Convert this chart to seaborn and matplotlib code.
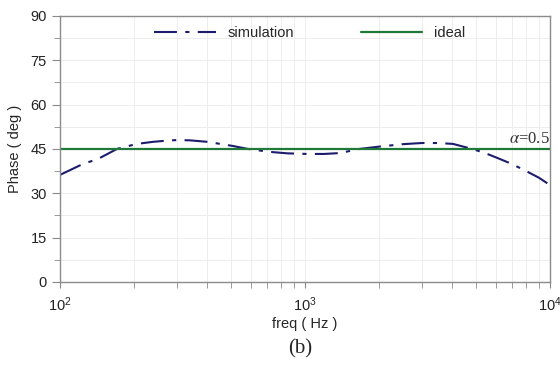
import numpy as np
import pandas as pd
import seaborn as sns
import matplotlib.pyplot as plt
from matplotlib.ticker import LogLocator, MultipleLocator, NullFormatter

# values
sim_freq = [100, 124, 143, 171, 206, 240, 273, 300, 340, 400, 508, 585, 719,
            850, 1020, 1200, 1390, 1670, 2020, 2500, 3000, 3500, 4020, 4810,
            5400, 6080, 7000, 8130, 9000, 10000]
sim_phase = [36.2, 39.9, 41.6, 45.0, 46.7, 47.4, 47.8, 48.0, 47.9, 47.4, 46.0,
             45.0, 44.0, 43.5, 43.3, 43.3, 43.6, 45.0, 45.8, 46.6, 47.0, 47.0,
             46.7, 45.0, 43.7, 42.0, 39.9, 37.2, 35.3, 32.8]
ideal_freq = [100, 10000]
ideal_phase = [45, 45]

sim = pd.DataFrame({'freq': sim_freq, 'phase': sim_phase})
ideal = pd.DataFrame({'freq': ideal_freq, 'phase': ideal_phase})

sns.set_style("white")
plt.rcParams['font.family'] = ['Liberation Sans', 'DejaVu Sans']
plt.rcParams['mathtext.fontset'] = 'stix'

fig = plt.figure(figsize=(5.6, 3.7), dpi=100)
ax = fig.add_axes([0.107, 0.238, 0.875, 0.719])

sns.lineplot(data=sim, x='freq', y='phase', ax=ax, color='#1c1c6e',
             lw=1.5, label='simulation')
ax.lines[-1].set_dashes((11, 4, 2, 4))
sns.lineplot(data=ideal, x='freq', y='phase', ax=ax, color='#1f7a3a',
             lw=1.6, label='ideal')

ax.set_xscale('log')
ax.set_xlim(100, 10000)
ax.set_ylim(0, 90)
ax.yaxis.set_major_locator(MultipleLocator(15))
ax.yaxis.set_minor_locator(MultipleLocator(7.5))
ax.xaxis.set_minor_locator(LogLocator(base=10, subs=np.arange(2, 10)))
ax.xaxis.set_minor_formatter(NullFormatter())

ax.grid(True, which='both', color='#ededed', lw=0.7)
for s in ax.spines.values():
    s.set_color('#8a8a8a')
    s.set_linewidth(1.0)
ax.tick_params(axis='both', which='both', direction='out', colors='#8a8a8a',
               labelcolor='#222222', labelsize=10.5)
ax.tick_params(axis='y', which='major', length=6, left=True)
ax.tick_params(axis='y', which='minor', length=4, left=True)
ax.tick_params(axis='x', which='both', length=4, bottom=True, pad=6)

ax.set_xlabel('freq ( Hz )', fontsize=10.5, labelpad=2)
ax.set_ylabel('Phase ( deg )', fontsize=10.5, labelpad=6)

ax.text(10000, 45.6, r'$\alpha$=0.5', ha='right', va='bottom', fontsize=12,
        family=['Liberation Serif', 'DejaVu Serif'], color='#333333')

ax.legend(ncol=2, loc='upper center', bbox_to_anchor=(0.51, 1.0),
          frameon=False, handlelength=4.2, columnspacing=4.6,
          fontsize=10.5, borderaxespad=0.3)

fig.text(0.536, 0.03, '(b)', ha='center', va='bottom', fontsize=15,
         family=['Liberation Serif', 'DejaVu Serif'])

fig.savefig('out.png', dpi=100)
